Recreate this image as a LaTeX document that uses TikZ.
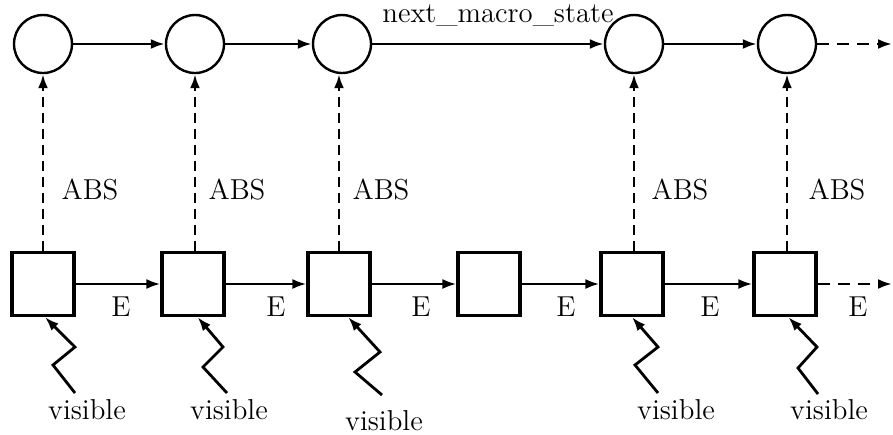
\documentclass[tikz,border=0pt]{standalone}
\usetikzlibrary{arrows.meta,calc}
\begin{document}
\begin{tikzpicture}[x=0.5pt,y=-0.5pt,
  state/.style={circle, draw, line width=1.2pt, minimum size=29pt, inner sep=0pt},
  obs/.style={rectangle, draw, line width=1.6pt, minimum width=31pt, minimum height=31.5pt, inner sep=0pt},
  arr/.style={-{Latex[length=7pt,width=5pt]}, line width=1.3pt},
  darr/.style={arr, dash pattern=on 5pt off 3pt},
  hdarr/.style={arr, dash pattern=on 6pt off 4pt},
  zig/.style={-{Latex[length=7pt,width=5pt]}, line width=1.4pt},
  lbl/.style={font=\Large, inner sep=0pt}]
\useasboundingbox (0,0) rectangle (893,434);

% macro states
\node[state] (c1) at (43,44) {};
\node[state] (c2) at (195,44) {};
\node[state] (c3) at (342,44) {};
\node[state] (c4) at (634,44) {};
\node[state] (c5) at (787,44) {};
\coordinate (cend) at (892,44);

% micro states
\node[obs] (b1) at (43,284) {};
\node[obs] (b2) at (193,284) {};
\node[obs] (b3) at (339,284) {};
\node[obs] (b4) at (489,284) {};
\node[obs] (b5) at (632,284) {};
\node[obs] (b6) at (785,284) {};
\coordinate (bend) at (892,284);

% top chain
\draw[arr] (c1) -- (c2);
\draw[arr] (c2) -- (c3);
\draw[arr] (c3) -- node[lbl, above=8pt, xshift=5pt] {next\_macro\_state} (c4);
\draw[arr] (c4) -- (c5);
\draw[hdarr] (c5) -- (cend);

% bottom chain
\draw[arr] (b1) -- (b2);
\draw[arr] (b2) -- (b3);
\draw[arr] (b3) -- (b4);
\draw[arr] (b4) -- (b5);
\draw[arr] (b5) -- (b6);
\draw[hdarr] (b6) -- (bend);

\foreach \x/\n in {121/e1,276/e2,421/e3,566/e4,710/e5,858/e6}
  \node[lbl] (\n) at (\x,307) {E};

% abstraction arrows
\draw[darr] (b1.north) -- (c1.south);
\draw[darr] (b2.north -| c2.south) -- (c2.south);
\draw[darr] (b3.north) -- (b3.north |- c3.south);
\draw[darr] (b5.north -| c4.south) -- (c4.south);
\draw[darr] (b6.north -| c5.south) -- (c5.south);

\node[lbl] (a1) at (90,190) {ABS};
\node[lbl] (a2) at (237,190) {ABS};
\node[lbl] (a3) at (381,190) {ABS};
\node[lbl] (a4) at (680,190) {ABS};
\node[lbl] (a5) at (837,190) {ABS};

% visible inputs
\node[lbl] (v1) at (87,410) {visible};
\node[lbl] (v2) at (229,410) {visible};
\node[lbl] (v3) at (384,421) {visible};
\node[lbl] (v5) at (676,410) {visible};
\node[lbl] (v6) at (829,410) {visible};

\coordinate (z1) at (75,393);
\coordinate (z2) at (227,393);
\coordinate (z3) at (382,395);
\coordinate (z5) at (658,393);
\coordinate (z6) at (818,394);

\draw[zig] (z1) -- (53,365) -- (75,347) -- ($(b1.south west)!0.53!(b1.south east)$);
\draw[zig] (z2) -- (203,367) -- (223,347) -- ($(b2.south west)!0.57!(b2.south east)$);
\draw[zig] (z3) -- (355,372) -- (380,352) -- ($(b3.south west)!0.64!(b3.south east)$);
\draw[zig] (z5) -- (635,365) -- (658,347) -- ($(b5.south west)!0.5!(b5.south east)$);
\draw[zig] (z6) -- (798,368) -- (817,347) -- ($(b6.south west)!0.55!(b6.south east)$);
\end{tikzpicture}
\end{document}
